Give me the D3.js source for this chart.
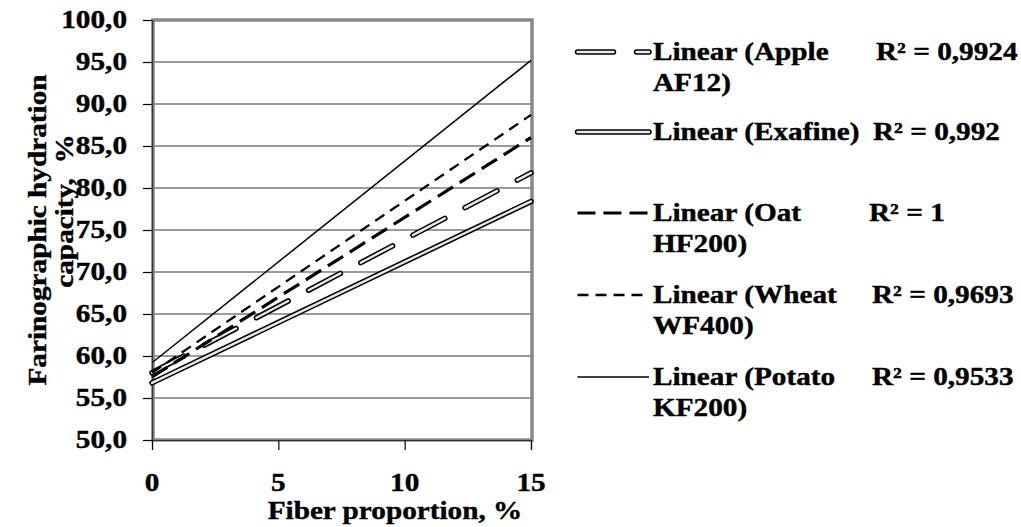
<!DOCTYPE html>
<html>
<head>
<meta charset="utf-8">
<script src="https://cdn.jsdelivr.net/npm/d3@7"></script>
<style>
  body { margin: 0; background: #fff; }
  svg text { font-family: "Liberation Serif", "Times New Roman", serif; font-weight: bold; fill: #000; stroke: #000; stroke-width: 0.4px; }
</style>
</head>
<body>
<svg id="chart" width="1021" height="527"></svg>
<script>
// trend lines, value at fiber 0 % and at 15 %
const fiber = [0, 15];
const apple = [58.0, 81.8];
const exafine = [56.8, 78.4];
const oat = [57.5, 86.0];
const wheat = [58.0, 88.7];
const potato = [59.2, 95.2];

const names = ['Linear (Apple|AF12)', 'Linear (Exafine)', 'Linear (Oat|HF200)', 'Linear (Wheat|WF400)', 'Linear (Potato|KF200)'];
const r2 = ['R² = 0,9924', 'R² = 0,992', 'R² = 1', 'R² = 0,9693', 'R² = 0,9533'];
const yTicks = [50, 55, 60, 65, 70, 75, 80, 85, 90, 95, 100];
const xTicks = [0, 5, 10, 15];

const series = [
  {values: apple, style: 'apple'},
  {values: exafine, style: 'exafine'},
  {values: oat, style: 'oat'},
  {values: wheat, style: 'wheat'},
  {values: potato, style: 'potato'}
];

const sx = 1.17; // glyphs in the picture are wider than plain Times
const fs = 25;

const svg = d3.select('#chart');
const x = d3.scaleLinear().domain([0, 15]).range([152, 531]);
const y = d3.scaleLinear().domain([50, 100]).range([440, 20]);
const fmt = d => d.toFixed(1).replace('.', ',');

// wide text helper
const wideText = (g, tx, ty, str, anchor) => {
  return g.append('text')
    .attr('transform', `translate(${tx},${ty}) scale(${sx},1)`)
    .attr('font-size', fs)
    .attr('text-anchor', anchor || 'start')
    .attr('dominant-baseline', 'central')
    .text(str);
};

// grid
svg.append('g')
  .selectAll('line')
  .data(yTicks.slice(1, -1))
  .join('line')
  .attr('x1', x(0)).attr('x2', x(15))
  .attr('y1', d => y(d)).attr('y2', d => y(d))
  .attr('stroke', '#7a7a7a')
  .attr('stroke-width', 1.5);

// plot frame
svg.append('rect')
  .attr('x', x(0) + 1).attr('y', y(100))
  .attr('width', x(15) - x(0)).attr('height', y(50) - y(100))
  .attr('fill', 'none')
  .attr('stroke', '#888')
  .attr('stroke-width', 3.5);

// axes
const yAxis = svg.append('g')
  .attr('transform', `translate(${x(0)},0)`)
  .call(d3.axisLeft(y).tickValues(yTicks).tickSize(9).tickFormat(''));
const xAxis = svg.append('g')
  .attr('transform', `translate(0,${y(50)})`)
  .call(d3.axisBottom(x).tickValues(xTicks).tickSize(10).tickFormat(''));
[yAxis, xAxis].forEach(a => {
  a.select('.domain').attr('stroke', '#333').attr('stroke-width', 1.2);
  a.selectAll('.tick line').attr('stroke', '#000').attr('stroke-width', 1.2);
});

const labels = svg.append('g');
yTicks.forEach(v => wideText(labels, 127, y(v), fmt(v), 'end'));
xTicks.forEach(v => wideText(labels, x(v), 483, String(v), 'middle'));
wideText(labels, 395, 511, 'Fiber proportion, %', 'middle');

// y title, rotated, two lines
[['Farinographic hydration', 46, 230], ['capacity,  %', 73, 211]].forEach(([str, tx, ty]) => {
  svg.append('g')
    .attr('transform', `translate(${tx},${ty}) rotate(-90)`)
    .append('text')
    .attr('font-size', fs)
    .attr('text-anchor', 'middle')
    .attr('transform', `scale(${sx},1)`)
    .style('white-space', 'pre')
    .text(str);
});

// line styles
const stroke = (g, pts, color, width, dash) => {
  const p = g.append('path')
    .attr('d', d3.line()(pts))
    .attr('fill', 'none')
    .attr('stroke', color)
    .attr('stroke-width', width);
  if (dash) p.attr('stroke-dasharray', dash);
  return p;
};
const draw = (g, style, pts) => {
  if (style === 'apple') {
    stroke(g, pts, '#000', 5.5, '36 23').attr('stroke-linecap', 'round');
    stroke(g, pts, '#e8e8e8', 2.4, '36 23').attr('stroke-linecap', 'round');
  } else if (style === 'exafine') {
    stroke(g, pts, '#000', 5.5).attr('stroke-linecap', 'round');
    stroke(g, pts, '#e8e8e8', 2.4).attr('stroke-linecap', 'round');
  } else if (style === 'oat') {
    stroke(g, pts, '#000', 3.2, '18 8');
  } else if (style === 'wheat') {
    stroke(g, pts, '#000', 2.3, '11 7');
  } else {
    stroke(g, pts, '#000', 1.5);
  }
};

const plot = svg.append('g');
series.forEach(s => {
  draw(plot.append('g'), s.style, fiber.map((f, i) => [x(f), y(s.values[i])]));
});

// legend
const rowY = [52, 132, 213, 295, 377];
const r2X = [876, 873, 869, 872, 872];
const legend = svg.append('g');
series.forEach((s, i) => {
  const g = legend.append('g');
  draw(g, s.style, [[577.5, rowY[i]], [649, rowY[i]]]);
  names[i].split('|').forEach((p, k) => wideText(g, 653, rowY[i] + k * 31, p));
  wideText(g, r2X[i], rowY[i], r2[i]);
});
</script>
</body>
</html>
